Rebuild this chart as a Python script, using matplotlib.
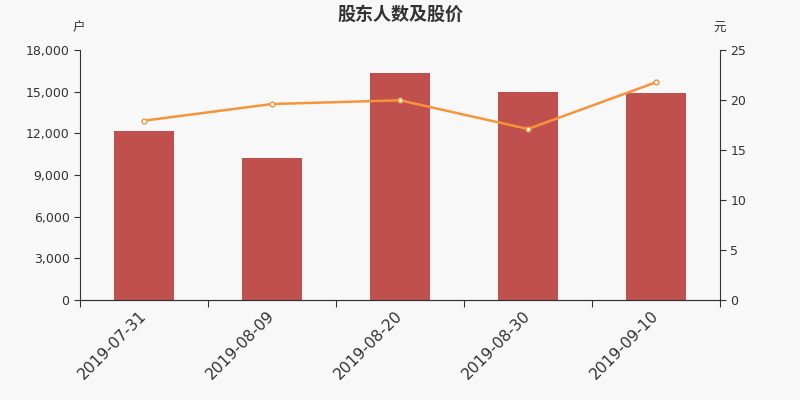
import matplotlib.pyplot as plt
from matplotlib.transforms import ScaledTranslation

plt.rcParams['font.family'] = ['DejaVu Sans', 'Noto Sans CJK SC']

# 数据
dates = ['2019-07-31', '2019-08-09', '2019-08-20', '2019-08-30', '2019-09-10']
holders = [12200, 10220, 16340, 15010, 14870]
prices = [17.93, 19.6, 19.97, 17.1, 21.77]

txt = '#333333'
bg = '#f8f8f8'

fig = plt.figure(figsize=(8, 4), dpi=100, facecolor=bg)
ax = fig.add_axes([0.1, 0.25, 0.8, 0.625], facecolor=bg)
ax2 = ax.twinx()

x = list(range(len(dates)))
ax.bar(x, holders, width=0.47, color='#c0504d', zorder=2)
ax.set_xlim(-0.5, len(dates) - 0.5)
ax.set_ylim(0, 18000)
ax.set_yticks(range(0, 18001, 3000))
ax.set_yticklabels([f'{v:,}' for v in range(0, 18001, 3000)], fontsize=9, color=txt)

ax.set_xticks([i - 0.5 for i in range(len(dates) + 1)], minor=False)
ax.set_xticklabels([''] * (len(dates) + 1))
ax.set_xticks(x, minor=True)
ax.set_xticklabels(dates, minor=True, rotation=45, ha='right', rotation_mode='anchor',
                   fontsize=11.2, color=txt)
ax.tick_params(axis='x', which='minor', length=0, pad=6)
ax.tick_params(axis='x', which='major', length=5, color=txt)
ax.tick_params(axis='y', length=4, color=txt)
shift = ScaledTranslation(-4 / 72, 0, fig.dpi_scale_trans)
for lab in ax.get_xticklabels(minor=True):
    lab.set_transform(lab.get_transform() + shift)

ax2.plot(x, prices, color='#f5953b', lw=1.8, marker='o', ms=3.5,
         mfc='white', mec='#f5953b', mew=1, zorder=3)
ax2.set_ylim(0, 25)
ax2.set_yticks(range(0, 26, 5))
ax2.tick_params(axis='y', length=4, color=txt, labelsize=9, labelcolor=txt)

for a in (ax, ax2):
    a.spines['top'].set_visible(False)
    for s in ('left', 'right', 'bottom'):
        a.spines[s].set_color(txt)
ax.spines['right'].set_visible(False)
ax2.spines['left'].set_visible(False)

fig.text(0.5, 0.965, '股东人数及股价', ha='center', va='center',
         fontsize=13, fontweight='bold', color=txt, family='Noto Sans CJK SC')
fig.text(0.098, 0.93, '户', ha='center', va='center', fontsize=9, color=txt)
fig.text(0.9, 0.93, '元', ha='center', va='center', fontsize=9, color=txt)

fig.savefig('out.png', dpi=100, facecolor=bg)
